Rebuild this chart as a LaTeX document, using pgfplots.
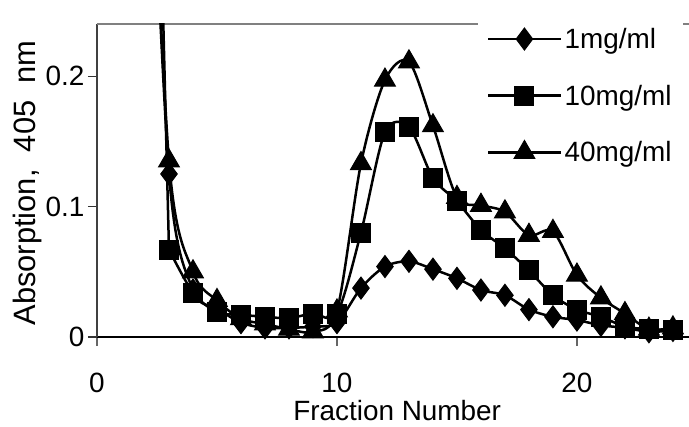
\documentclass[border=0pt]{standalone}
\usepackage{fontspec}
\setmainfont{Liberation Sans}
\usepackage{pgfplots}
\pgfplotsset{compat=1.18}
\newcommand{\bigfont}{\fontsize{28}{33}\selectfont}
\begin{document}
\begin{tikzpicture}
\path[use as bounding box] (-97bp,-90bp) rectangle (592bp,337bp);
\begin{axis}[
    at={(0,0)}, anchor=south west,
    scale only axis,
    width=592bp, height=313bp,
    xmin=0, xmax=24.67,
    ymin=0, ymax=0.24,
    axis x line*=bottom,
    axis y line*=left,
    x axis line style={-, black, line width=1.5bp},
    y axis line style={-, black!75, line width=2bp},
    xtick={0,10,20},
    ytick={0,0.1,0.2},
    tick align=outside,
    major tick length=9bp,
    x tick style={black!60, line width=1.5bp},
    y tick style={black!80, line width=1.2bp},
    tick label style={font=\bigfont},
    /pgf/number format/assume math mode=true,
    xticklabel style={yshift=-23bp},
    xlabel={Fraction Number},
    ylabel={Absorption,\ \ 405\ \ nm},
    every axis x label/.style={at={(axis description cs:0.507,-0.236)}, anchor=center, font=\bigfont},
    every axis y label/.style={at={(axis description cs:-0.1166,0.492)}, anchor=center, rotate=90, font=\fontsize{31}{36}\selectfont},
    legend image code/.code={\draw[mark repeat=2, mark phase=2] plot coordinates {(0bp,0bp) (36bp,0bp) (73bp,0bp)};},
    legend cell align=left,
    legend style={at={(axis description cs:0.6436,1.032)}, anchor=north west,
        fill=white, draw=none, font=\bigfont, row sep=31bp,
        inner xsep=9bp, inner ysep=12bp, nodes={inner sep=2bp}},
    mystyle/.style={black, line width=2.5bp, smooth, mark options={solid, fill=black, line width=1bp}},
]

\draw[black!50, line width=2bp] (rel axis cs:0,1) -- (rel axis cs:1,1);

% 40 mg/ml (drawn first, under the others)
\addplot[mystyle, mark=triangle*, mark size=12bp, forget plot] coordinates {
(2,0.50) (3,0.135) (4,0.050) (5,0.028) (6,0.014) (7,0.010) (8,0.006) (9,0.004)
(10,0.020) (11,0.133) (12,0.197) (13,0.211) (14,0.162) (15,0.107) (16,0.101)
(17,0.096) (18,0.078) (19,0.081) (20,0.0475) (21,0.030) (22,0.018) (23,0.006) (24,0.007)
};

% 10 mg/ml: steep rise before fraction 3
\addplot[black, line width=2.5bp, forget plot] coordinates {(2,0.80) (3,0.067)};

% 1 mg/ml
\addplot[mystyle, mark=diamond*, mark size=11bp] coordinates {
(2,0.50) (3,0.125) (4,0.036) (5,0.022) (6,0.011) (7,0.007) (8,0.007) (9,0.008)
(10,0.011) (11,0.0375) (12,0.054) (13,0.058) (14,0.052) (15,0.045) (16,0.036)
(17,0.032) (18,0.021) (19,0.0155) (20,0.013) (21,0.009) (22,0.007) (23,0.004) (24,0.005)
};
\addlegendentry{1mg/ml}

% 10 mg/ml
\addplot[mystyle, mark=square*, mark size=9.5bp] coordinates {
(3,0.067) (4,0.034) (5,0.019) (6,0.017) (7,0.0155) (8,0.0145) (9,0.018)
(10,0.018) (11,0.080) (12,0.157) (13,0.161) (14,0.122) (15,0.104) (16,0.082)
(17,0.068) (18,0.051) (19,0.032) (20,0.021) (21,0.0155) (22,0.008) (23,0.006) (24,0.005)
};
\addlegendentry{10mg/ml}

\addlegendimage{mystyle, mark=triangle*, mark size=12bp}
\addlegendentry{40mg/ml}

\end{axis}
\end{tikzpicture}
\end{document}
